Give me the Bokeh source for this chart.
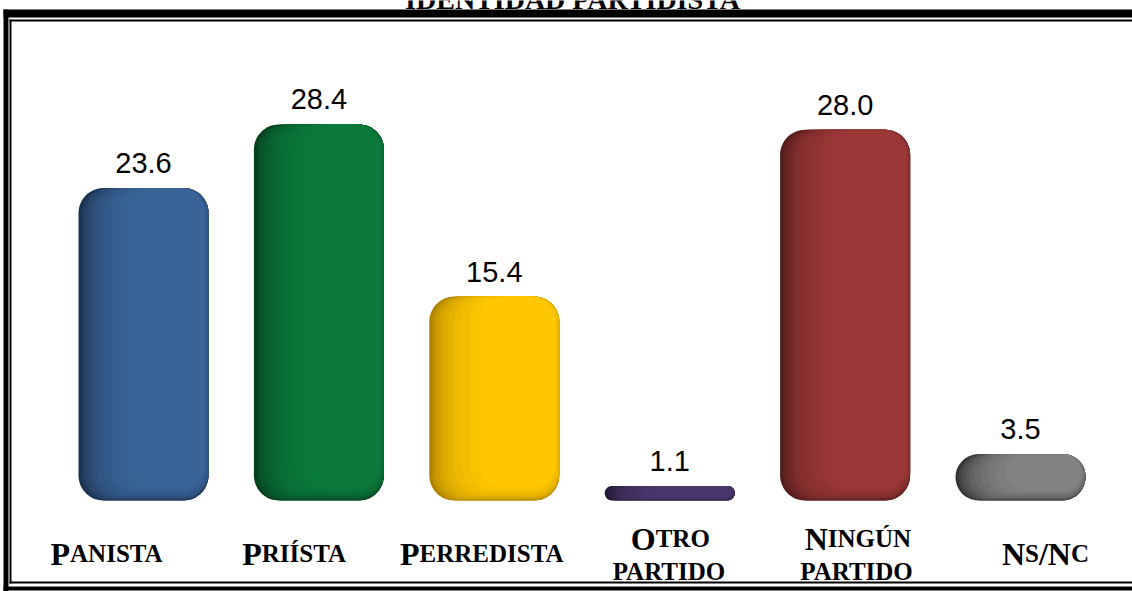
import numpy as np
from bokeh.plotting import figure
from bokeh.models import Range1d, ColumnDataSource
from bokeh.core.properties import value, field
from bokeh.embed import file_html
from bokeh.resources import INLINE

# ---------------- data ----------------
title = "IDENTIDAD PARTIDISTA"
categories = ["Panista", "Priísta", "Perredista", "Otro partido", "Ningún partido", "Ns/Nc"]
label_lines = [["Panista"], ["Priísta"], ["Perredista"], ["Otro", "partido"], ["Ningún", "partido"], ["Ns/Nc"]]
values = [23.6, 28.4, 15.4, 1.1, 28.0, 3.5]

main_colors = ["#3a6498", "#0a7a3b", "#ffc700", "#4b376c", "#9c3737", "#828282"]
dark_colors = ["#1b3150", "#053f1e", "#ad8200", "#221834", "#521b1b", "#333333"]

# ---------------- layout (pixels) ----------------
W, H = 1132, 591
X0_PX = 143.0        # canvas x of first bar centre
STEP_PX = 175.4      # px between bar centres
BASE_PX = 500.0      # canvas y of the zero line
PXU = 13.24          # px per percentage point
BAR_W_PX = 130.0
RAD_PX = 25.0
LABEL_X0_PX = 107.0
LABEL_STEP_PX = 187.6
TS = -7              # text vertical correction (px)

def dx(px):
    return (px - X0_PX) / STEP_PX

def dy(py):
    return (BASE_PX - py) / PXU

p = figure(width=W, height=H, output_backend="svg", toolbar_location=None,
           x_range=Range1d(dx(0), dx(W)), y_range=Range1d(dy(H), dy(0)),
           x_axis_location=None, y_axis_location=None, min_border=0,
           background_fill_color="white", border_fill_color="white")
p.outline_line_color = None
p.xgrid.grid_line_color = None
p.ygrid.grid_line_color = None


def mix(c1, c2, t):
    a = np.array([int(c1[k:k + 2], 16) for k in (1, 3, 5)], float)
    b = np.array([int(c2[k:k + 2], 16) for k in (1, 3, 5)], float)
    c = a + (b - a) * t
    return "#%02x%02x%02x" % tuple(int(round(v)) for v in c)


def rounded(xl, xr, yb, yt, rpx, n=14):
    w_px = (xr - xl) * STEP_PX
    h_px = (yt - yb) * PXU
    r = max(0.0, min(rpx, w_px / 2, h_px / 2))
    rx, ry = r / STEP_PX, r / PXU
    xs, ys = [], []
    for (cx, cy, a0) in [(xr - rx, yt - ry, 0), (xl + rx, yt - ry, 90),
                         (xl + rx, yb + ry, 180), (xr - rx, yb + ry, 270)]:
        ang = np.radians(np.linspace(a0, a0 + 90, n))
        xs.extend(cx + rx * np.cos(ang))
        ys.extend(cy + ry * np.sin(ang))
    return xs, ys

# shading layers: (left inset, right inset, bottom inset, top inset, mix toward main)
layers = [(0, 0, 0, 0, 0.0), (3, 0, 0, 0, 0.2), (6, 0, 1, 0, 0.35), (10, 0, 2, 0, 0.48),
          (14, 0, 3, 0, 0.6), (19, 0, 4, 0, 0.7), (25, 1, 6, 0, 0.79), (32, 2, 8, 0, 0.87),
          (40, 3, 10, 0, 0.94), (50, 4, 12, 0, 1.0)]

idx = np.arange(len(categories))
half = BAR_W_PX / 2 / STEP_PX
xs_all, ys_all, cols = [], [], []
for i, v in enumerate(values):
    h_px = v * PXU
    vs = min(1.0, h_px / 60.0)
    for (li, ri, bi, ti, t) in layers:
        c = mix(dark_colors[i], main_colors[i], t)
        xl = idx[i] - half + li / STEP_PX
        xr = idx[i] + half - ri / STEP_PX
        yb = 0 + bi * vs / PXU
        yt = v - ti * vs / PXU
        xs, ys = rounded(xl, xr, yb, yt, RAD_PX)
        xs_all.append(xs)
        ys_all.append(ys)
        cols.append(c)

p.patches(xs_all, ys_all, fill_color=cols, line_color=None)

# value labels
p.text(x=idx, y=np.array(values) + (18 - TS) / PXU, text=[f"{v:.1f}" for v in values],
       text_font=value("Liberation Sans"), text_font_size="29px",
       text_align="center", text_baseline="alphabetic", text_color="black")

# category labels in small caps
tnr_bold = {"A": 722, "C": 722, "D": 722, "E": 667, "G": 778, "I": 389, "N": 722, "O": 778,
            "P": 611, "R": 722, "S": 556, "T": 667, "U": 722, "Í": 389, "Ú": 722, "/": 278, " ": 250}
BIG, SMALL = 32, 25

lx, ly, lt, ls, lo = [], [], [], [], []
for i, lines in enumerate(label_lines):
    cx = dx(LABEL_X0_PX + LABEL_STEP_PX * i)
    if len(lines) == 1:
        bases = [560]
    else:
        bases = [545, 578]
    for line, base in zip(lines, bases):
        segs = []
        for ch in line:
            s = SMALL if ch.islower() else BIG
            c = ch.upper()
            if segs and segs[-1][1] == s:
                segs[-1][0] += c
            else:
                segs.append([c, s])
        widths = [sum(tnr_bold.get(c, 700) for c in txt) * s / 1000 for txt, s in segs]
        off = -sum(widths) / 2
        for (txt, s), wd in zip(segs, widths):
            lx.append(cx)
            ly.append(dy(base + TS))
            lt.append(txt)
            ls.append(f"{s}px")
            lo.append(off)
            off += wd

src = ColumnDataSource(dict(x=lx, y=ly, text=lt, size=ls, xo=lo))
p.text(x="x", y="y", text="text", source=src, x_offset="xo",
       text_font=value("Liberation Serif"), text_font_style="bold",
       text_font_size=field("size"), text_align="left", text_baseline="alphabetic",
       text_color="black")

# title (partly cut off at the top like the original)
p.text(x=[dx(572)], y=[dy(6 + TS)], text=[title], text_font=value("Liberation Serif"),
       text_font_style="bold", text_font_size="28px", text_align="center",
       text_baseline="alphabetic", text_color="black")

# double frame
frame = [  # (left px, right px, top px, bottom px)
    (3, W, 9, 17),        # top thick
    (9, W, 19, 21),       # top thin
    (3, 8, 9, H),         # left thick
    (9, 11, 19, 583),     # left thin
    (9, W, 581, 583),     # bottom thin
    (3, W, 586, 590),     # bottom thick
]
p.quad(left=[dx(f[0]) for f in frame], right=[dx(f[1]) for f in frame],
       top=[dy(f[2]) for f in frame], bottom=[dy(f[3]) for f in frame],
       fill_color="black", line_color=None)

open("out.html", "w").write(file_html(p, INLINE))
